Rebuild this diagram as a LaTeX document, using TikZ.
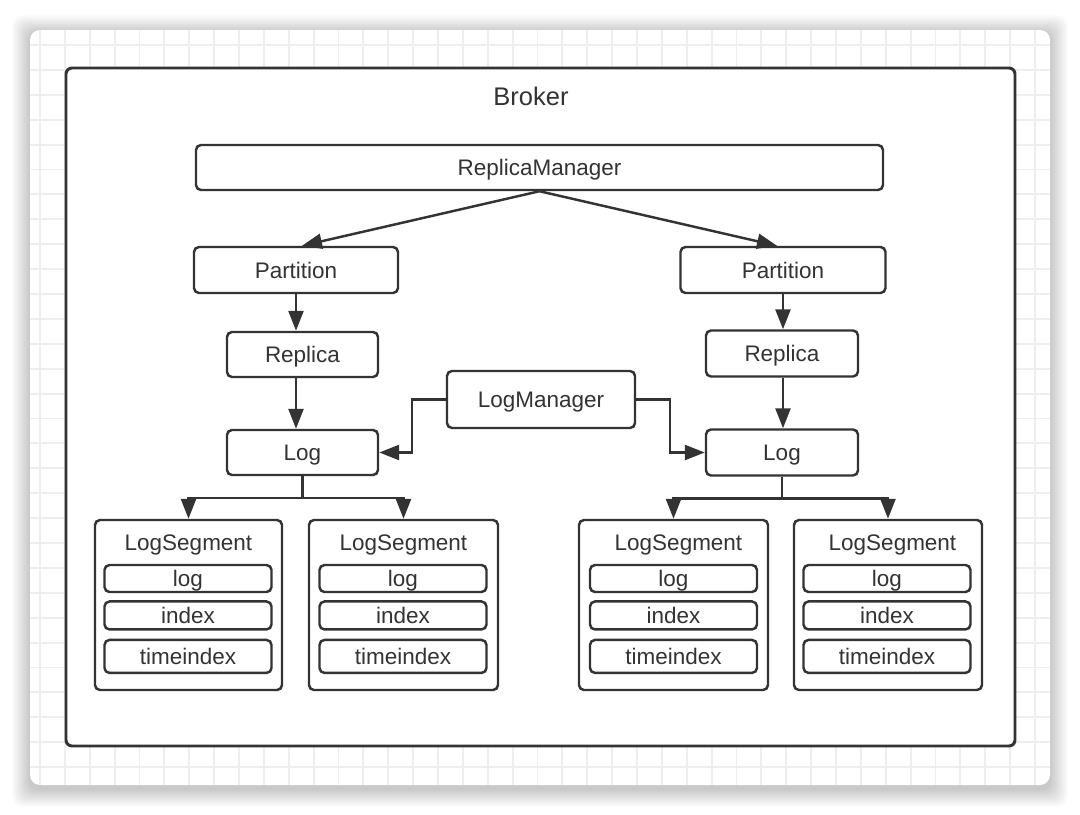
\documentclass[tikz,border=0pt]{standalone}
\usepackage{fontspec}
\setmainfont{Liberation Sans}
\usetikzlibrary{arrows.meta, positioning}
\definecolor{ink}{HTML}{333333}
\definecolor{gridline}{HTML}{EEEEEE}

\begin{document}
\begin{tikzpicture}[x=0.02cm, y=-0.02cm,
    every node/.style={text=ink, font=\fontsize{12.8}{15}\selectfont, text height=9.2pt, text depth=0pt},
    box/.style 2 args={draw=ink, line width=1.4pt, rounded corners=0.1cm, inner sep=0pt,
        minimum width=#1*0.02cm, minimum height=#2*0.02cm},
    link/.style={draw=ink, line width=1.4pt},
    arr/.style={link, -{Triangle[length=0.4cm, width=0.3cm]}}]
    % card with shadow and grid
    \useasboundingbox[fill=white] (0,0) rectangle (1080,815);
    \foreach \s in {1,...,18}
        \fill[black, opacity=0.012, rounded corners=0.2cm] (30-\s,33-\s) rectangle (1050+\s,789+\s);
    \fill[white, rounded corners=0.2cm] (30,30) rectangle (1050,785);
    \begin{scope}
        \clip[rounded corners=0.2cm] (30,30) rectangle (1050,785);
        \foreach \k in {0,...,40}
            \draw[gridline, line width=1.1pt] (40+24.875*\k,30) -- (40+24.875*\k,785);
        \foreach \k in {0,...,29}
            \draw[gridline, line width=1.1pt] (30,45+24.9*\k) -- (1050,45+24.9*\k);
    \end{scope}
    % broker
    \node[box={949}{678}, line width=1.7pt, rounded corners=0.12cm, fill=white] (broker) at (540.5,407) {};
    \node[font=\fontsize{14.5}{17}\selectfont, text height=10.4pt] (title) at (531,96) {Broker};
    \node[box={687}{45}] (rm) at (539.5,167.5) {ReplicaManager};
    \node[box={204}{46}] (pl) at (296,270) {Partition};
    \node[box={205}{46}] (pr) at (783,270) {Partition};
    \node[box={151}{45}] (repl) at (302.5,354.5) {Replica};
    \node[box={152}{46}] (repr) at (782,353.5) {Replica};
    \node[box={188}{57}] (lm) at (541,399.5) {LogManager};
    \node[box={151}{45}] (logl) at (302.5,452.5) {Log};
    \node[box={152}{46}] (logr) at (782,452.5) {Log};
    % segments
    \node[box={187}{170}] (sega) at (188.5,605) {};
    \node (ttla) at (188.5,542) {LogSegment};
    \node[box={167}{27}] (loga) at (188,578.5) {log};
    \node[box={167}{28}, below=0.14cm of loga] (idxa) {index};
    \node[box={167}{33}, below=0.16cm of idxa] (tia) {timeindex};
    \node[box={189}{170}] (segb) at (403.5,605) {};
    \node (ttlb) at (403.5,542) {LogSegment};
    \node[box={167}{27}] (logb) at (403,578.5) {log};
    \node[box={167}{28}, below=0.14cm of logb] (idxb) {index};
    \node[box={167}{33}, below=0.16cm of idxb] (tib) {timeindex};
    \node[box={189}{170}] (segc) at (673.5,605) {};
    \node (ttlc) at (678.5,542) {LogSegment};
    \node[box={167}{27}] (logc) at (673.5,578.5) {log};
    \node[box={167}{28}, below=0.14cm of logc] (idxc) {index};
    \node[box={167}{33}, below=0.16cm of idxc] (tic) {timeindex};
    \node[box={188}{170}] (segd) at (888,605) {};
    \node (ttld) at (892.5,542) {LogSegment};
    \node[box={167}{27}] (logd) at (887,578.5) {log};
    \node[box={167}{28}, below=0.14cm of logd] (idxd) {index};
    \node[box={167}{33}, below=0.16cm of idxd] (tid) {timeindex};
    % connectors
    \draw[arr] (rm.south) -- ([xshift=0.12cm]pl.north);
    \draw[arr] (rm.south) -- ([xshift=-0.12cm]pr.north);
    \draw[arr] (pl.south) -- (pl.south |- repl.north);
    \draw[arr] (pl.south |- repl.south) -- (pl.south |- logl.north);
    \draw[arr] (pr.south) -- (pr.south |- repr.north);
    \draw[arr] (pr.south |- repr.south) -- (pr.south |- logr.north);
    \draw[arr] (lm.west) -- ++(-34,0) |- (logl.east);
    \draw[arr] (lm.east) -- ++(34,0) |- (logr.west);
    \coordinate[below=0.44cm of logl.south] (jl);
    \coordinate[below=0.44cm of logr.south] (jr);
    \draw[link] (logl.south) -- (jl);
    \draw[arr] (jl) -| (sega.north);
    \draw[arr] (jl) -| (segb.north);
    \draw[link] (logr.south) -- (jr);
    \draw[arr] (jr) -| (segc.north);
    \draw[arr] (jr) -| (segd.north);
\end{tikzpicture}
\end{document}
